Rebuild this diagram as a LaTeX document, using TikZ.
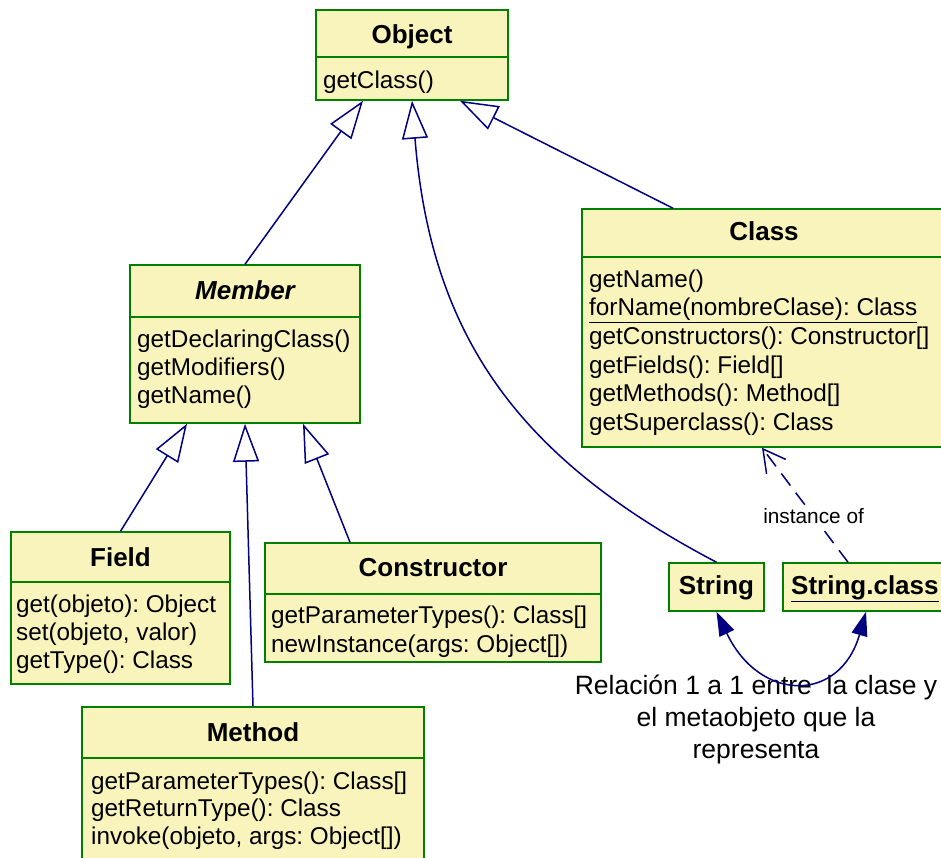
\documentclass[tikz,border=0pt]{standalone}
\usepackage{fontspec}
\setmainfont{Liberation Sans}
\usetikzlibrary{arrows.meta,calc}
\frenchspacing

\definecolor{umlfill}{RGB}{248,244,188}
\definecolor{umlgreen}{RGB}{0,128,0}
\definecolor{navyline}{RGB}{0,0,128}

\tikzset{
  umlbox/.style={rectangle, draw=umlgreen, fill=umlfill, line width=1.5pt, inner sep=0pt},
  divider/.style={draw=umlgreen, line width=1.5pt},
  title/.style={inner sep=0pt, anchor=base, font=\fontsize{26}{30}\selectfont\bfseries},
  op/.style={inner sep=0pt, anchor=base west, font=\fontsize{24.3}{28}\selectfont},
  link/.style={draw=navyline, line width=1.5pt},
  inherit/.style={link, -{Triangle[length=38pt,width=26pt,fill=white]}},
  instof/.style={link, dash pattern=on 15pt off 9pt, -{Straight Barb[length=22pt,width=24pt]}},
  pairing/.style={link, {Triangle[length=24pt,width=16pt]}-{Triangle[length=24pt,width=16pt]}},
  note/.style={inner sep=0pt, align=center, font=\fontsize{26.5}{32}\selectfont},
  small/.style={inner sep=2pt, fill=white, font=\fontsize{20.8}{24}\selectfont},
}

% box: name, left, top, right, bottom, divider (or none)
\newcommand\umlclassbox[6]{%
  \node[umlbox, minimum width={(#4-#2)*1pt}, minimum height={(#5-#3)*1pt}]
    (#1) at ({(#2+#4)/2},{(#3+#5)/2}) {};
  \ifx\relax#6\relax\else
    \draw[divider] (#2,#6) -- (#4,#6);
  \fi
}
% operations: prefix, x, first baseline, line step, list
\newcommand\oplines[5]{%
  \foreach \opText [count=\k] in {#5} {
    \node[op] (#1-op\k) at (#2,{#3+(\k-1)*#4}) {\opText};
  }%
}

\begin{document}
\begin{tikzpicture}[x=1pt,y=-1pt]
\clip (0,0) rectangle (941,857);
\fill[white] (0,0) rectangle (941,857);

% Object
\umlclassbox{object}{316}{10}{508}{100}{57}
\node[title] (object-title) at (412,43) {Object};
\oplines{object}{323}{88}{28}{getClass()}

% Class
\umlclassbox{cls}{582}{209}{952}{447}{257}
\node[title] (cls-title) at (764,240) {Class};
\oplines{cls}{589}{287.3}{28.6}{getName(),\underline{forName(nombreClase): Class},getConstructors(): Constructor[],getFields(): Field[],getMethods(): Method[],getSuperclass(): Class}

% Member
\umlclassbox{member}{130}{265}{360}{423}{317}
\node[title] (member-title) at (245,299) {\itshape Member};
\oplines{member}{137}{347}{28}{getDeclaringClass(),getModifiers(),getName()}

% Field
\umlclassbox{field}{11}{532}{230}{684}{582}
\node[title] (field-title) at (120.5,566) {Field};
\oplines{field}{16}{612}{28}{get(objeto): Object,{set(objeto, valor)},getType(): Class}

% Constructor
\umlclassbox{ctor}{265}{543}{601}{662}{594}
\node[title] (ctor-title) at (433,576) {Constructor};
\oplines{ctor}{271}{623}{29}{getParameterTypes(): Class[],newInstance(args: Object[])}

% Method
\umlclassbox{method}{82}{707}{424}{862}{758}
\node[title] (method-title) at (253,741) {Method};
\oplines{method}{91}{789}{27.7}{getParameterTypes(): Class[],getReturnType(): Class,{invoke(objeto, args: Object[])}}

% String and its metaobject
\umlclassbox{string}{669}{563}{764}{611}{}
\node[title] (string-title) at (716.5,594) {String};
\umlclassbox{sclass}{783}{563}{952}{611}{}
\node[title, anchor=base west] (sclass-title) at (791,594) {\underline{String.class}};

% generalizations
\draw[inherit] (member.north) -- ([xshift=-49pt]object.south);
\draw[inherit] ([xshift=-94pt]cls.north) -- ([xshift=48pt]object.south);
\draw[inherit] (string.north) .. controls (522,460) and (431,340) .. (object.south);
\draw[inherit] (field.north) -- ([xshift=-58pt]member.south);
\draw[inherit] (method.north) -- (member.south);
\draw[inherit] ([xshift=-83pt]ctor.north) -- ([xshift=58pt]member.south);

% instance-of dependency
\draw[instof] ([xshift=-19.5pt]sclass.north) -- node[small, pos=0.4] (instlabel) {instance of} ([xshift=-5pt]cls.south);

% note on the one-to-one relation
\node[note, anchor=north] (relnote) at (756,674) {\rule{0pt}{20pt}Relación 1 a 1 entre~ la clase y\\el metaobjeto que la\\representa};
\draw[pairing] (string.south) .. controls (760,703) and (840,703) .. ([xshift=-1.5pt]sclass.south);
\end{tikzpicture}
\end{document}
